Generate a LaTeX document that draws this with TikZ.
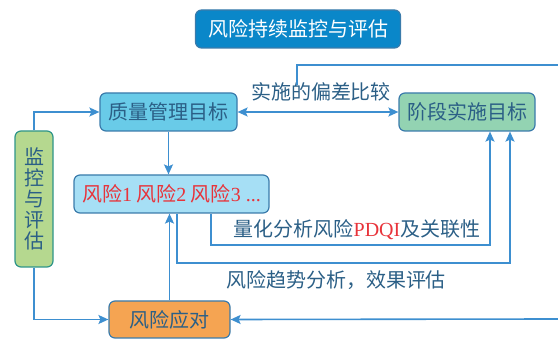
\documentclass[tikz,border=0pt]{standalone}
\usepackage{fontspec}
\setmainfont{Liberation Serif}
\newfontfamily\cjk{Noto Sans CJK SC}
\usetikzlibrary{arrows.meta}
\definecolor{lnblue}{HTML}{3D8FD0}
\definecolor{txblue}{HTML}{2B5F86}
\definecolor{titlefill}{HTML}{0A87C9}
\definecolor{qmfill}{HTML}{69CBE8}
\definecolor{jdfill}{HTML}{93D3B2}
\definecolor{jkfill}{HTML}{B5D88F}
\definecolor{fxfill}{HTML}{A6DFF5}
\definecolor{ydfill}{HTML}{F5A452}
\definecolor{bord}{HTML}{3A7BAB}
\definecolor{rskred}{HTML}{E8333A}
\begin{document}
\begin{tikzpicture}[x=1pt,y=-1pt,
  box/.style={draw=bord,line width=1.2pt,rounded corners=6pt,inner sep=0pt,
    font=\fontsize{20}{21}\selectfont\cjk,text=txblue},
  arr/.style={draw=lnblue,line width=1.6pt,-{Stealth[length=10pt,width=9pt,inset=2pt]}},
  arrb/.style={draw=lnblue,line width=1.6pt,{Stealth[length=10pt,width=9pt,inset=2pt]}-{Stealth[length=10pt,width=9pt,inset=2pt]}},
  ln/.style={draw=lnblue,line width=1.6pt},
  lbl/.style={font=\fontsize{20}{21}\selectfont\cjk,text=txblue,inner sep=0pt}]
\useasboundingbox (0,0) rectangle (558,339);
\node[box,fill=titlefill,draw=bord,text=white,minimum width=205pt,minimum height=38pt] (title) at (298,29) {风险持续监控与评估};
\node[box,fill=qmfill,minimum width=137pt,minimum height=38pt] (qm) at (168.5,112) {质量管理目标};
\node[box,fill=jdfill,minimum width=136pt,minimum height=38pt] (jd) at (467,112) {阶段实施目标};
\node[box,fill=jkfill,draw=bord!80!green,minimum width=38pt,minimum height=136pt,align=center] (jk) at (34,199) {监\\控\\与\\评\\估};
\node[box,fill=fxfill,text=rskred,minimum width=195pt,minimum height=38pt] (fx) at (171.5,194) {风险{\rmfamily 1} 风险{\rmfamily 2} 风险{\rmfamily 3 ...}};
\node[box,fill=ydfill,minimum width=121pt,minimum height=37pt] (yd) at (169.5,319.5) {风险应对};
\node[lbl] (l1) at (321,92) {实施的偏差比较};
\node[lbl] (l2) at (357,230) {量化分析风险{\rmfamily\color{rskred}PDQI}及关联性};
\node[lbl] (l3) at (336,280) {风险趋势分析，效果评估};
\coordinate (c1) at (211,245);
\coordinate (c2) at (490,245);
\coordinate (c3) at (177,263);
\coordinate (c4) at (510,263);
\coordinate (t1) at (297,85);
\coordinate (t2) at (297,65);
\coordinate (t3) at (558,65);
\coordinate (e1) at (558,319);
\draw[arr] (jk.north) |- (qm.west);
\draw[arr] (jk.south) |- (yd.west);
\draw[arr] (qm.south) -- (qm.south |- fx.north);
\draw[arr] (yd.north) -- (yd.north |- fx.south);
\draw[arrb] (qm.east) -- (jd.west);
\draw[arr] (fx.south -| c1) -- (c1) -- (c2) -- (jd.south -| c2);
\draw[arr] (fx.south -| c3) -- (c3) -- (c4) -- (jd.south -| c4);
\draw[ln] (t1) -- (t2) -- (t3);
\draw[arr] (e1) -- (yd.east);
\end{tikzpicture}
\end{document}
